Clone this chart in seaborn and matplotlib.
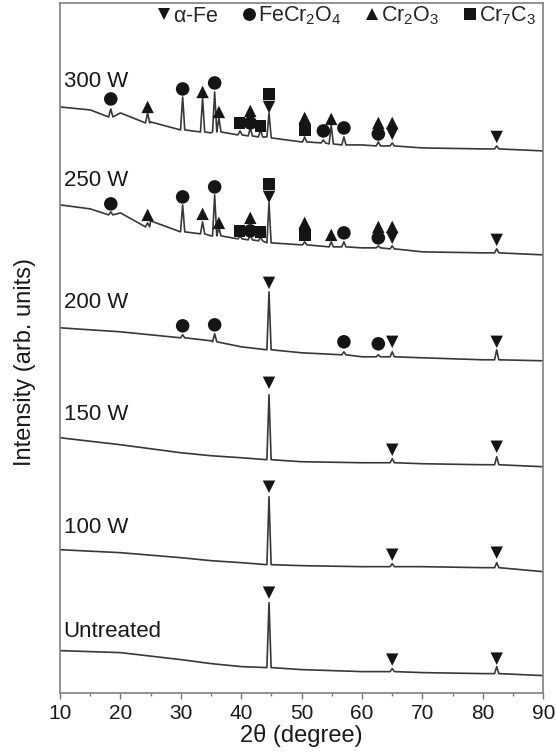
import matplotlib
matplotlib.use('Agg')
import matplotlib.pyplot as plt
from matplotlib.lines import Line2D
from matplotlib.ticker import MultipleLocator
import numpy as np
import pandas as pd
import seaborn as sns

# ---- data (2theta in degree, intensity in arb. units) ----
samples = ['Untreated', '100 W', '150 W', '200 W', '250 W', '300 W']

# baseline anchors of every pattern
base_x = {
    '300 W': [10, 15, 20, 25, 30, 35, 40, 45, 50, 55, 60, 70, 80, 90],
    '250 W': [10, 15, 20, 25, 30, 35, 40, 45, 50, 55, 60, 70, 80, 90],
    '200 W': [10, 20, 30, 35, 40, 45, 50, 60, 70, 80, 90],
    '150 W': [10, 20, 30, 35, 40, 45, 50, 60, 70, 80, 90],
    '100 W': [10, 20, 30, 35, 40, 45, 50, 60, 70, 80, 90],
    'Untreated': [10, 20, 30, 35, 40, 45, 50, 60, 70, 80, 90],
}
base_y = {
    '300 W': [586, 583, 580, 571, 563, 560, 558, 555, 551, 549, 548, 545, 544, 542],
    '250 W': [488, 484, 480, 472, 463, 457, 453, 450, 448, 446, 445, 441, 440, 438],
    '200 W': [365, 361, 356, 352, 346, 343, 340, 336, 335, 333, 332],
    '150 W': [255, 248, 240, 237, 235, 233, 231, 230, 229, 228, 226],
    '100 W': [143, 140, 135, 132, 130, 128, 127, 126, 126, 125, 121],
    'Untreated': [42, 40, 33, 29, 26, 25, 23, 21, 20, 19, 17],
}

# peaks: (position, foot level, top level)
peaks = {
    '300 W': [(18.4, 576, 584), (24.5, 570, 580), (30.3, 563, 596), (33.6, 561, 595),
              (35.6, 561, 601), (36.3, 561, 575), (39.8, 558, 562), (41.5, 557, 565),
              (43.2, 556, 563), (44.6, 556, 580), (50.5, 551, 556), (53.6, 550, 553),
              (54.9, 549, 568), (57.0, 548, 556), (62.7, 547, 551), (65.0, 547, 550),
              (82.3, 544, 547)],
    '250 W': [(18.4, 478, 481), (24.5, 466, 470), (30.3, 461, 488), (33.6, 459, 471),
              (35.6, 457, 498), (36.3, 457, 465), (39.8, 454, 457), (41.5, 453, 458),
              (43.2, 452, 456), (44.6, 450, 490), (50.5, 448, 451), (54.9, 446, 451),
              (57.0, 446, 451), (62.7, 445, 447), (65.0, 444, 447), (82.3, 440, 444)],
    '200 W': [(30.3, 355, 358), (35.6, 351, 359), (44.6, 343, 401), (57.0, 338, 341),
              (62.7, 336, 338), (65.0, 336, 341), (82.3, 333, 343)],
    '150 W': [(44.6, 233, 298), (65.0, 230, 234), (82.3, 228, 236)],
    '100 W': [(44.6, 128, 196), (65.0, 126, 129), (82.3, 125, 130)],
    'Untreated': [(44.6, 25, 90), (65.0, 21, 24), (82.3, 19, 26)],
}

label_y = {'300 W': 611, '250 W': 512, '200 W': 390, '150 W': 278, '100 W': 165, 'Untreated': 61}

# phase markers: (phase, 2theta, height)
phase_marks = [
    # 300 W
    ('FeCr2O4', 18.4, 594), ('Cr2O3', 24.5, 586), ('FeCr2O4', 30.3, 604), ('Cr2O3', 33.6, 601),
    ('FeCr2O4', 35.6, 610), ('Cr2O3', 36.3, 581), ('Cr7C3', 39.7, 570), ('FeCr2O4', 41.5, 570),
    ('Cr2O3', 41.5, 582), ('Cr7C3', 43.2, 567), ('a-Fe', 44.6, 586), ('Cr7C3', 44.6, 599),
    ('Cr2O3', 50.5, 575), ('Cr7C3', 50.5, 563), ('FeCr2O4', 53.6, 562), ('Cr2O3', 54.9, 574),
    ('FeCr2O4', 57.0, 565), ('Cr2O3', 62.7, 570), ('FeCr2O4', 62.7, 559), ('Cr2O3', 65.0, 570),
    ('a-Fe', 65.0, 559), ('a-Fe', 82.3, 556),
    # 250 W
    ('FeCr2O4', 18.4, 489), ('Cr2O3', 24.5, 478), ('FeCr2O4', 30.3, 496), ('Cr2O3', 33.6, 479),
    ('FeCr2O4', 35.6, 506), ('Cr2O3', 36.3, 470), ('Cr7C3', 39.7, 462), ('FeCr2O4', 41.5, 462),
    ('Cr2O3', 41.5, 475), ('Cr7C3', 43.2, 461), ('a-Fe', 44.6, 496), ('Cr7C3', 44.6, 509),
    ('Cr2O3', 50.5, 470), ('Cr7C3', 50.5, 458), ('Cr2O3', 54.9, 458), ('FeCr2O4', 57.0, 460),
    ('Cr2O3', 62.7, 466), ('FeCr2O4', 62.7, 455), ('Cr2O3', 65.0, 466), ('a-Fe', 65.0, 455),
    ('a-Fe', 82.3, 453),
    # 200 W
    ('FeCr2O4', 30.3, 367), ('FeCr2O4', 35.6, 368), ('a-Fe', 44.6, 410), ('FeCr2O4', 57.0, 351),
    ('FeCr2O4', 62.7, 349), ('a-Fe', 65.0, 351), ('a-Fe', 82.3, 351),
    # 150 W
    ('a-Fe', 44.6, 310), ('a-Fe', 65.0, 243), ('a-Fe', 82.3, 246),
    # 100 W
    ('a-Fe', 44.6, 206), ('a-Fe', 65.0, 138), ('a-Fe', 82.3, 140),
    # Untreated
    ('a-Fe', 44.6, 100), ('a-Fe', 65.0, 33), ('a-Fe', 82.3, 34),
]

phase_style = {
    'a-Fe': ('v', 80, r'$\alpha$-Fe'),
    'FeCr2O4': ('o', 95, r'FeCr$_2$O$_4$'),
    'Cr2O3': ('^', 80, r'Cr$_2$O$_3$'),
    'Cr7C3': ('s', 72, r'Cr$_7$C$_3$'),
}


def build_trace(name, hw=0.35):
    pk = peaks[name]
    pts = [(x, y) for x, y in zip(base_x[name], base_y[name])
           if all(abs(x - p[0]) > hw for p in pk)]
    for pos, foot, top in pk:
        pts += [(pos - hw, foot), (pos, top), (pos + hw, foot)]
    pts.sort()
    return pd.DataFrame(pts, columns=['two_theta', 'intensity'])


sns.set_theme(style='white')
plt.rcParams['font.family'] = ['Liberation Sans', 'DejaVu Sans']
plt.rcParams['mathtext.default'] = 'regular'

fig = plt.figure(figsize=(5.56, 7.52), dpi=100)
ax = fig.add_axes([0.108, 0.079, 0.869, 0.917])

for name in samples:
    df = build_trace(name)
    sns.lineplot(data=df, x='two_theta', y='intensity', sort=False, estimator=None,
                 color='#383838', lw=1.2, ax=ax)
    ax.text(10.6, label_y[name], name, fontsize=16, va='center', ha='left', color='#1a1a1a')

marks = pd.DataFrame(phase_marks, columns=['phase', 'two_theta', 'intensity'])
for ph, (mk, sz, _) in phase_style.items():
    sub = marks[marks['phase'] == ph]
    sns.scatterplot(data=sub, x='two_theta', y='intensity', marker=mk, s=sz,
                    color='#151515', edgecolor='none', ax=ax, zorder=5)

handles = [Line2D([], [], ls='none', marker=mk, ms=np.sqrt(sz) * 0.95, color='#151515',
                  markeredgewidth=0, label=lab)
           for mk, sz, lab in phase_style.values()]
ax.legend(handles=handles, loc='upper right', bbox_to_anchor=(1.012, 1.016), ncol=4,
          frameon=False, fontsize=15.5, handlelength=0.6, handletextpad=0.12,
          columnspacing=1.1, borderaxespad=0.2)

ax.set_xlim(10, 90)
ax.set_ylim(0, 690)
ax.xaxis.set_major_locator(MultipleLocator(10))
ax.xaxis.set_minor_locator(MultipleLocator(5))
ax.tick_params(axis='x', which='major', direction='out', length=4, width=1, color='#777777',
               labelsize=15, labelcolor='#1a1a1a', bottom=True, pad=4)
ax.tick_params(axis='x', which='minor', direction='out', length=2.5, width=1, color='#777777',
               bottom=True)
ax.set_yticks([])
for sp in ax.spines.values():
    sp.set_color('#808080')
    sp.set_linewidth(1.2)

ax.set_xlabel('2θ (degree)', fontsize=17, color='#1a1a1a', labelpad=1)
ax.set_ylabel('Intensity (arb. units)', fontsize=17, color='#1a1a1a')
ax.yaxis.set_label_coords(-0.05, 0.48)

fig.savefig('out.png', dpi=100)
